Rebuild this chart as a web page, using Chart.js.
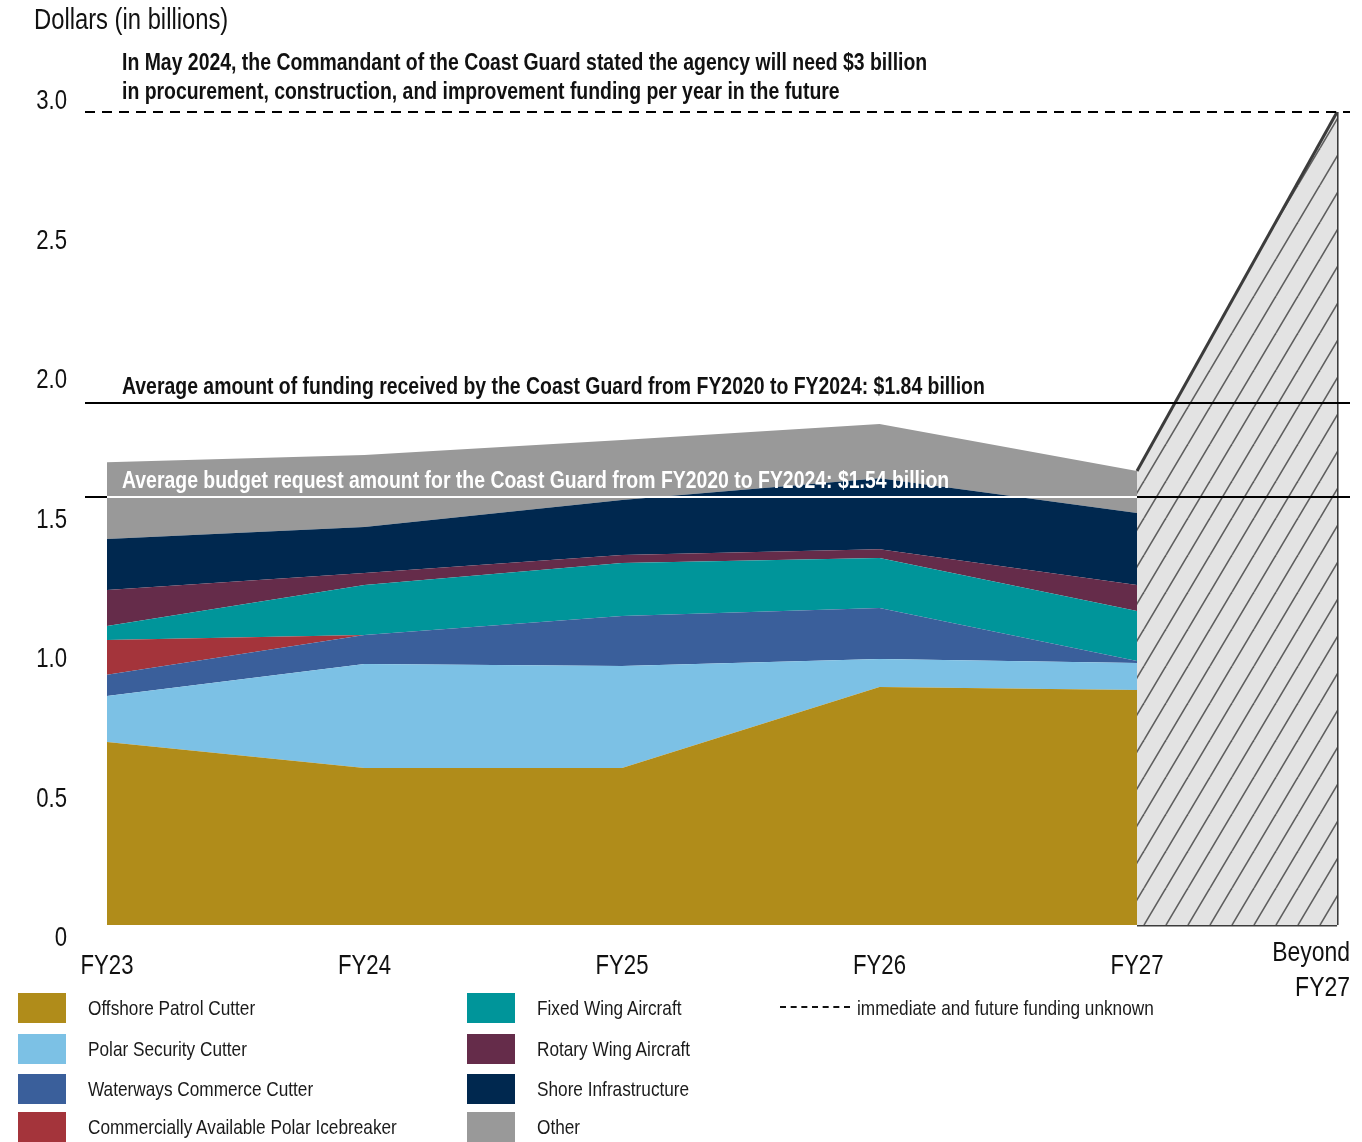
<!DOCTYPE html>
<html><head><meta charset="utf-8">
<script src="https://cdn.jsdelivr.net/npm/chart.js@4.4.1/dist/chart.umd.min.js"></script>
<style>
body{margin:0;background:#fff;}
#wrap{position:absolute;left:0;top:0;width:1362px;height:1142px;}
#legend{position:absolute;left:0;top:0;width:1362px;height:1142px;pointer-events:none;font-family:'Liberation Sans',Arial,sans-serif;color:#1a1a1a;}
.sw{position:absolute;width:48px;height:30px;box-sizing:border-box;}
.lt{position:absolute;font-size:21px;line-height:30px;white-space:nowrap;transform:scaleX(0.82);transform-origin:0 50%;}
</style></head><body>
<div id="wrap"><canvas id="c"></canvas></div>
<div id="legend"></div>
<script>
// ---- data ----
const categories = ['FY23','FY24','FY25','FY26','FY27'];
const beyondLabel = ['Beyond','FY27'];
const yTickValues = [0, 0.5, 1.0, 1.5, 2.0, 2.5, 3.0];
const yTickLabels = ['0','0.5','1.0','1.5','2.0','2.5','3.0'];
const yAxisTitle = 'Dollars (in billions)';

const offshorePatrolCutter   = [0.675, 0.579, 0.579, 0.878, 0.867];
const polarSecurityCutter    = [0.170, 0.384, 0.377, 0.104, 0.100];
const waterwaysCommerceCutter= [0.078, 0.107, 0.184, 0.188, 0.007];
const polarIcebreaker        = [0.129, 0.000, 0.000, 0.000, 0.000];
const fixedWingAircraft      = [0.051, 0.185, 0.196, 0.184, 0.185];
const rotaryWingAircraft     = [0.133, 0.044, 0.029, 0.033, 0.096];
const shoreInfrastructure    = [0.188, 0.170, 0.203, 0.262, 0.265];
const other                  = [0.284, 0.265, 0.222, 0.200, 0.155];

const seriesNames = ['Offshore Patrol Cutter','Polar Security Cutter','Waterways Commerce Cutter',
  'Commercially Available Polar Icebreaker','Fixed Wing Aircraft','Rotary Wing Aircraft',
  'Shore Infrastructure','Other'];
const seriesValues = [offshorePatrolCutter, polarSecurityCutter, waterwaysCommerceCutter,
  polarIcebreaker, fixedWingAircraft, rotaryWingAircraft, shoreInfrastructure, other];
const seriesColors = ['#B08C1A','#7CC1E5','#3A5F9B','#A4343B','#00959A','#652C4A','#00284F','#999999'];

const beyondX = 4.777;          // position of the "Beyond FY27" edge
const neededPerYear = 3.0;      // dashed line
const avgReceivedLine = 1.925;  // line as drawn (labelled $1.84 billion)
const avgRequestLine = 1.578;   // line as drawn (labelled $1.54 billion)
const noteNeed = ['In May 2024, the Commandant of the Coast Guard stated the agency will need $3 billion',
                  'in procurement, construction, and improvement funding per year in the future'];
const noteReceived = 'Average amount of funding received by the Coast Guard from FY2020 to FY2024: $1.84 billion';
const noteRequest = 'Average budget request amount for the Coast Guard from FY2020 to FY2024: $1.54 billion';
const unknownLabel = 'immediate and future funding unknown';

// ---- styling ----
const FONT = "'Liberation Sans',Arial,sans-serif";
const NARROW = 0.82;

function narrowText(ctx, text, x, y, align, font, color){
  ctx.save();
  ctx.font = font; ctx.fillStyle = color;
  ctx.textAlign = align; ctx.textBaseline = 'middle';
  ctx.translate(x, y); ctx.scale(NARROW, 1);
  ctx.fillText(text, 0, 0);
  ctx.restore();
}

function makeHatch(){
  const W = 22, H = 37;
  const p = document.createElement('canvas');
  p.width = W; p.height = H;
  const g = p.getContext('2d');
  g.fillStyle = '#E3E3E3'; g.fillRect(0,0,W,H);
  g.strokeStyle = '#5e5e5e'; g.lineWidth = 1.6;
  for (const dx of [-W, 0, W]) {
    g.beginPath(); g.moveTo(dx, H); g.lineTo(dx + W, 0); g.stroke();
  }
  return document.createElement('canvas').getContext('2d').createPattern(p, 'repeat');
}

const stackTotalFY27 = seriesValues.reduce((s, arr) => s + arr[4], 0);

const datasets = seriesValues.map((vals, i) => ({
  label: seriesNames[i],
  data: vals.map((v, j) => ({x: j, y: v})),
  backgroundColor: seriesColors[i],
  borderWidth: 0,
  pointRadius: 0,
  fill: i === 0 ? 'origin' : '-1',
  yAxisID: 'y',
  stack: 'main',
  tension: 0
}));
const edge = '#3c3c3c';
datasets.push({
  label: 'beyond', data: [{x: 4, y: stackTotalFY27}, {x: beyondX, y: neededPerYear}],
  backgroundColor: makeHatch(), borderColor: edge, borderWidth: 3, pointRadius: 0,
  fill: 'origin', yAxisID: 'yo'
});
datasets.push({ label: 'beyondRight', data: [{x: beyondX, y: 0}, {x: beyondX, y: neededPerYear}],
  borderColor: edge, borderWidth: 3, pointRadius: 0, fill: false, yAxisID: 'yo' });
datasets.push({ label: 'beyondBottom', data: [{x: 4, y: 0}, {x: beyondX, y: 0}],
  borderColor: edge, borderWidth: 3, pointRadius: 0, fill: false, yAxisID: 'yo' });
datasets.push({ label: 'beyondLeft', data: [{x: 4, y: 0}, {x: 4, y: stackTotalFY27}],
  borderColor: '#c8c8c8', borderWidth: 1, pointRadius: 0, fill: false, yAxisID: 'yo' });

const annot = {
  id: 'annot',
  afterDatasetsDraw(chart){
    const {ctx, chartArea: a, scales} = chart;
    const y = scales.y, x = scales.x, y2 = scales.y2;
    const x0 = x.getPixelForValue(0), x4 = x.getPixelForValue(4);
    ctx.save();
    // dashed 3.0 line
    ctx.strokeStyle = '#000'; ctx.lineWidth = 2; ctx.setLineDash([10, 7]);
    let py = Math.round(y.getPixelForValue(neededPerYear));
    ctx.beginPath(); ctx.moveTo(a.left, py); ctx.lineTo(a.right, py); ctx.stroke();
    ctx.setLineDash([]);
    // average received
    py = Math.round(y.getPixelForValue(avgReceivedLine));
    ctx.beginPath(); ctx.moveTo(a.left, py); ctx.lineTo(a.right, py); ctx.stroke();
    // average request: black outside, white over areas
    py = Math.round(y.getPixelForValue(avgRequestLine));
    ctx.beginPath(); ctx.moveTo(a.left, py); ctx.lineTo(x0, py);
    ctx.moveTo(x4, py); ctx.lineTo(a.right, py); ctx.stroke();
    ctx.strokeStyle = '#fff';
    ctx.beginPath(); ctx.moveTo(x0, py); ctx.lineTo(x4, py); ctx.stroke();
    ctx.restore();

    // notes
    const tx = x0 + 15;
    const bold = 'bold 23.7px ' + FONT;
    const pNeed = y.getPixelForValue(neededPerYear);
    narrowText(ctx, noteNeed[0], tx, pNeed - 49, 'left', bold, '#111');
    narrowText(ctx, noteNeed[1], tx, pNeed - 20, 'left', bold, '#111');
    narrowText(ctx, noteReceived, tx, y.getPixelForValue(avgReceivedLine) - 16, 'left', bold, '#111');
    narrowText(ctx, noteRequest, tx, y.getPixelForValue(avgRequestLine) - 16, 'left', bold, '#fff');

    // axis title
    narrowText(ctx, yAxisTitle, 34, 21, 'left', '29px ' + FONT, '#111');

    // y tick labels (from the y2 axis ticks)
    y2.ticks.forEach((t, i) => {
      narrowText(ctx, yTickLabels[yTickValues.indexOf(t.value)], a.left - 18,
        y2.getPixelForValue(t.value) + 3, 'right', '27px ' + FONT, '#111');
    });
    // x tick labels (from the x axis ticks)
    x.ticks.forEach(t => {
      narrowText(ctx, categories[t.value], x.getPixelForValue(t.value), a.bottom + 17,
        'center', '27px ' + FONT, '#111');
    });
    // beyond label
    narrowText(ctx, beyondLabel[0], a.right, a.bottom + 3, 'right', '28px ' + FONT, '#111');
    narrowText(ctx, beyondLabel[1], a.right, a.bottom + 38, 'right', '28px ' + FONT, '#111');
  }
};

const chart = new Chart(document.getElementById('c'), {
  type: 'line',
  data: { datasets },
  options: {
    responsive: true, maintainAspectRatio: false, animation: false,
    layout: { padding: { top: 58, left: 0, right: 12, bottom: 152 } },
    plugins: { legend: { display: false }, tooltip: { enabled: false } },
    elements: { line: { tension: 0 } },
    scales: {
      x: {
        type: 'linear', min: -0.08544, max: 4.8272,
        grid: { display: false, drawTicks: false }, border: { display: false },
        afterBuildTicks: s => { s.ticks = categories.map((c, i) => ({value: i})); },
        afterFit: s => { s.height = 40; },
        ticks: { display: false }
      },
      y: { type: 'linear', display: false, stacked: true, min: -0.09225, max: 3.1993 },
      yo: { type: 'linear', display: false, stacked: false, min: -0.09225, max: 3.1993 },
      y2: {
        type: 'linear', position: 'left', min: -0.0502, max: 3.1469,
        grid: { display: false, drawTicks: false }, border: { display: false },
        afterBuildTicks: s => { s.ticks = yTickValues.map(v => ({value: v})); },
        afterFit: s => { s.width = 85; },
        ticks: { display: false }
      }
    }
  },
  plugins: [annot]
});

// ---- legend (HTML) ----
const leg = document.getElementById('legend');
const rowsY = [993, 1034, 1074, 1112];
seriesNames.forEach((name, i) => {
  const col = i < 4 ? 0 : 1, row = i % 4;
  const sx = col === 0 ? 18 : 467, tx = col === 0 ? 88 : 537;
  const sw = document.createElement('div');
  sw.className = 'sw'; sw.style.left = sx + 'px'; sw.style.top = rowsY[row] + 'px';
  sw.style.background = seriesColors[i];
  leg.appendChild(sw);
  const t = document.createElement('div');
  t.className = 'lt'; t.style.left = tx + 'px'; t.style.top = (rowsY[row]) + 'px';
  t.textContent = name;
  leg.appendChild(t);
});
const dl = document.createElement('div');
dl.style.cssText = 'position:absolute;left:780px;top:1006px;width:70px;height:0;border-top:2px dashed #111;';
leg.appendChild(dl);
const dt = document.createElement('div');
dt.className = 'lt'; dt.style.left = '857px'; dt.style.top = '993px';
dt.textContent = unknownLabel;
leg.appendChild(dt);
</script>
</body></html>
